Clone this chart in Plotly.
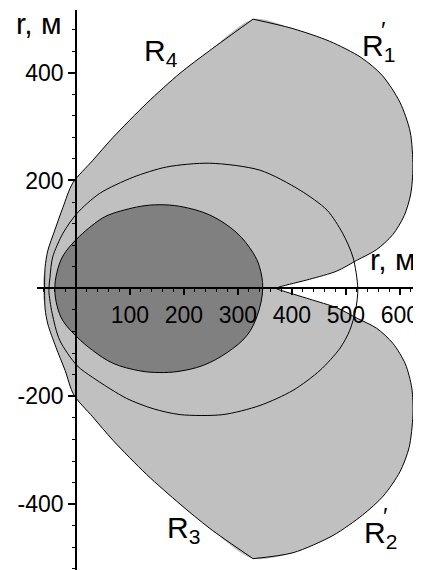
import plotly.graph_objects as go

# ---- data (metres) ----
upper_lobe_x = [370, 378, 433, 483, 520, 557, 587, 608, 620, 624, 619, 600, 567, 528, 470, 400, 328,
                248, 193, 131, 69, 31, -6, -24, -39, -52, -57, -58]
upper_lobe_y = [0, 3, 17, 32, 52, 72, 100, 135, 175, 225, 290, 345, 395, 428, 458, 482, 499,
                441, 399, 343, 280, 237, 195, 150, 108, 70, 39, 0]

lower_lobe_x = [370, 378, 433, 483, 520, 557, 587, 610, 622, 624, 617, 600, 569, 531, 476, 402, 328,
                248, 193, 131, 69, 31, -4, -20, -37, -52, -57, -58]
lower_lobe_y = [0, -3, -20, -36, -55, -74, -102, -140, -185, -235, -295, -340, -385, -420, -458, -490, -501,
                -445, -400, -345, -282, -238, -197, -152, -109, -66, -38, 0]

mid_x = [522, 513, 494, 465, 415, 341, 248, 168, 106, 44, 2, -24, -43, -48, -50, -44, -30, 2, 31, 94,
         143, 193, 272, 341, 402, 452, 489, 507, 518, 522]
mid_y = [0, 58, 102, 145, 182, 219, 232, 225, 206, 176, 139, 102, 58, 20, -4, -46, -96, -143, -165, -204,
         -223, -234, -234, -217, -189, -152, -111, -78, -40, 0]

dark_x = [346, 340, 328, 298, 248, 193, 154, 119, 63, 44, 2, -24, -35, -39, -35, -24, 2, 31, 69, 119,
          154, 189, 235, 280, 317, 336, 346]
dark_y = [0, 40, 66, 103, 136, 152, 155, 152, 137, 127, 92, 60, 30, 0, -32, -60, -90, -115, -139, -153,
          -156, -154, -143, -119, -87, -50, 0]

x_tick_vals = [100, 200, 300, 400, 500, 600]
x_tick_text = ["100", "200", "300", "400", "500", "600"]
y_tick_vals = [-400, -200, 200, 400]
y_tick_text = ["-400", "-200", "200", "400"]

axis_label = "r, м"

LIGHT = "#c0c0c0"
DARK = "#808080"
FONT = "Liberation Sans, Arial, sans-serif"

fig = go.Figure()

# light lobes (fill)
for lx, ly in ((upper_lobe_x, upper_lobe_y), (lower_lobe_x, lower_lobe_y)):
    fig.add_trace(go.Scatter(x=lx + [150, lx[0]], y=ly + [0, ly[0]], mode="lines",
                             fill="toself", fillcolor=LIGHT,
                             line=dict(width=0, shape="spline", smoothing=0.8),
                             hoverinfo="skip", showlegend=False))
# lobe outlines (two pieces each, sharp corner at the tip)
for lx, ly in ((upper_lobe_x, upper_lobe_y), (lower_lobe_x, lower_lobe_y)):
    fig.add_trace(go.Scatter(x=lx[:17], y=ly[:17], mode="lines",
                             line=dict(color="black", width=1, shape="spline", smoothing=0.8),
                             hoverinfo="skip", showlegend=False))
    fig.add_trace(go.Scatter(x=lx[16:], y=ly[16:], mode="lines",
                             line=dict(color="black", width=1, shape="spline", smoothing=0.8),
                             hoverinfo="skip", showlegend=False))

# dark region
fig.add_trace(go.Scatter(x=dark_x, y=dark_y, mode="lines", fill="toself", fillcolor=DARK,
                         line=dict(color="black", width=1, shape="spline", smoothing=1),
                         hoverinfo="skip", showlegend=False))
# middle closed curve
fig.add_trace(go.Scatter(x=mid_x, y=mid_y, mode="lines",
                         line=dict(color="black", width=1, shape="spline", smoothing=0.8),
                         hoverinfo="skip", showlegend=False))

# labels
def lab(text, x, y, size, xa="left", ya="top"):
    fig.add_annotation(x=x, y=y, xref="x", yref="y", text=text, showarrow=False,
                       xanchor=xa, yanchor=ya, font=dict(family=FONT, size=size, color="black"))

lab("R<sub>4</sub>", 122, 475, 30)
lab("R<sub>1</sub>", 526, 484, 30)
lab("R<sub>2</sub>", 530, -418, 30)
lab("R<sub>3</sub>", 165, -409, 30)
lab("\u2032", 570, 478, 24, "center", "middle")
lab("\u2032", 573, -422, 24, "center", "middle")
lab(axis_label, -68, 491, 30, "center", "middle")
lab(axis_label, 588, 53, 30, "center", "middle")

# the page body adds an 8 px offset, so the figure is 8 px smaller than the window
W, H = 413, 562
fig.update_layout(
    width=W, height=H, autosize=False,
    margin=dict(l=0, r=0, t=0, b=0),
    paper_bgcolor="white", plot_bgcolor="white",
    font=dict(family=FONT, size=23, color="black"),
    xaxis=dict(domain=[29 / W, 1], range=[-72, 639], anchor="free", position=(H - 280.4) / H,
               showgrid=False, zeroline=False, showline=True, linecolor="black", linewidth=1.5,
               ticks="outside", ticklen=6, tickwidth=1.5, tickcolor="black",
               tickmode="array", tickvals=x_tick_vals, ticktext=x_tick_text,
               tickfont=dict(family=FONT, size=23),
               minor=dict(tickmode="linear", tick0=0, dtick=20, ticks="outside", ticklen=3,
                          tickcolor="black", tickwidth=1)),
    yaxis=dict(domain=[0, 560 / H], range=[-522, 516], anchor="free", position=68 / W,
               showgrid=False, zeroline=False, showline=True, linecolor="black", linewidth=1.5,
               ticks="outside", ticklen=7, tickwidth=1.5, tickcolor="black",
               tickmode="array", tickvals=y_tick_vals, ticktext=y_tick_text,
               tickfont=dict(family=FONT, size=23),
               minor=dict(tickmode="linear", tick0=0, dtick=40, ticks="outside", ticklen=3,
                          tickcolor="black", tickwidth=1)),
)

fig.write_html("out.html")
